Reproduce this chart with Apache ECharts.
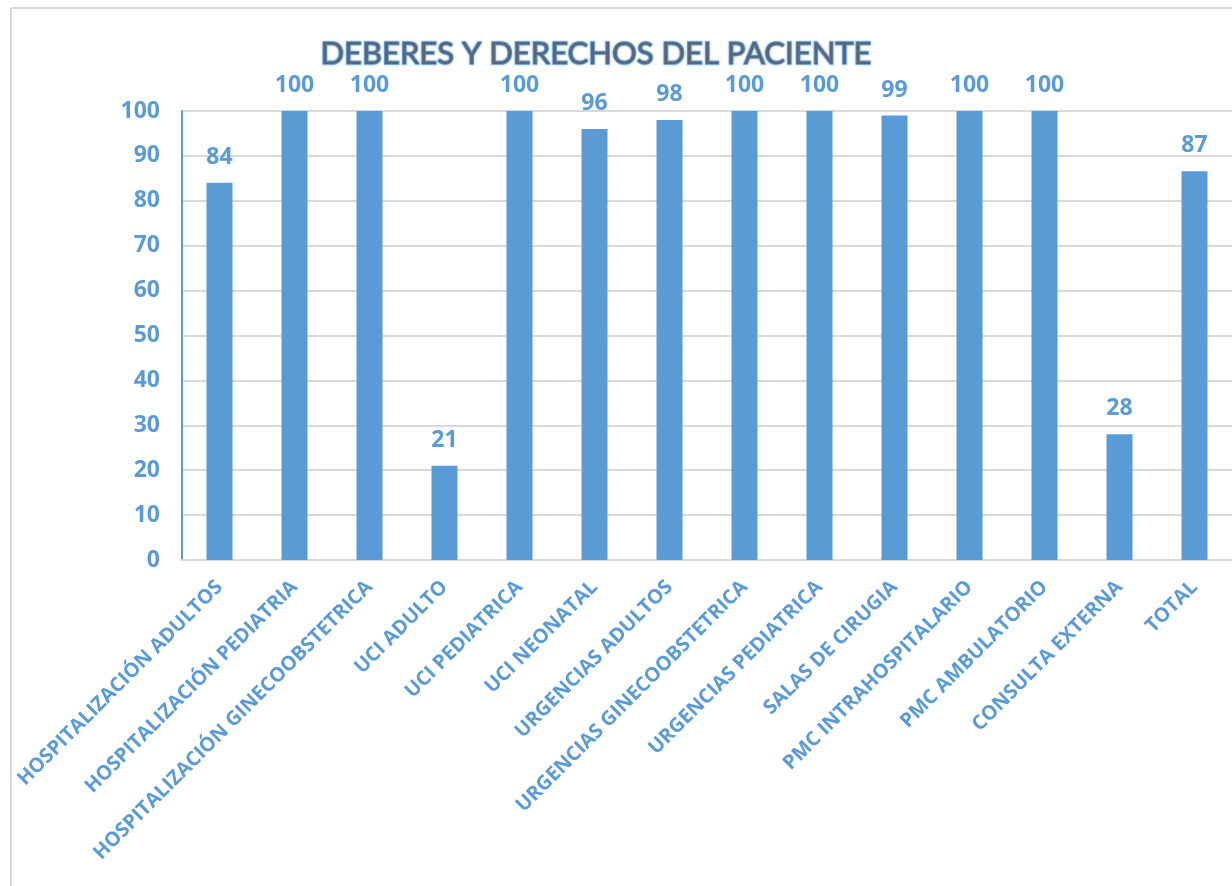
<!DOCTYPE html>
<html>
<head>
<meta charset="utf-8">
<script src="https://cdn.jsdelivr.net/npm/echarts@6/dist/echarts.min.js"></script>
<style>
  html, body { margin: 0; padding: 0; background: #fff; }
  #chart { width: 1232px; height: 886px; }
</style>
</head>
<body>
<div id="chart"></div>
<script>
// categories along x
const categories = [
  'HOSPITALIZACIÓN ADULTOS',
  'HOSPITALIZACIÓN PEDIATRIA',
  'HOSPITALIZACIÓN GINECOOBSTETRICA',
  'UCI ADULTO',
  'UCI PEDIATRICA',
  'UCI NEONATAL',
  'URGENCIAS ADULTOS',
  'URGENCIAS GINECOOBSTETRICA',
  'URGENCIAS PEDIATRICA',
  'SALAS DE CIRUGIA',
  'PMC INTRAHOSPITALARIO',
  'PMC AMBULATORIO',
  'CONSULTA EXTERNA',
  'TOTAL'
]
// percentages
const values = [84, 100, 100, 21, 100, 96, 98, 100, 100, 99, 100, 100, 28, 86.6]

const blue = '#5B9BD5'
const font = '"Open Sans", sans-serif'

const chart = echarts.init(document.getElementById('chart'))

const option = {
  animation: false,
  backgroundColor: '#fff',
  title: {
    text: 'DEBERES Y DERECHOS DEL PACIENTE',
    left: 591,
    top: 33,
    textAlign: 'center',
    textStyle: {
      fontFamily: 'Lato, sans-serif',
      fontSize: 31,
      fontWeight: 'normal',
      color: '#5a6678',
      textBorderColor: 'rgba(91,155,213,0.9)',
      textBorderWidth: 1.5,
      textShadowColor: 'rgba(91,155,213,0.8)',
      textShadowBlur: 2
    }
  },
  graphic: [
    { type: 'line', shape: { x1: 11, y1: 8, x2: 11, y2: 886 }, style: { stroke: '#d9d9d9', lineWidth: 2 } },
    { type: 'line', shape: { x1: 11, y1: 8, x2: 1232, y2: 8 }, style: { stroke: '#d9d9d9', lineWidth: 2 } }
  ],
  grid: { left: 182, right: 0, top: 111, bottom: 326 },
  xAxis: {
    type: 'category',
    data: categories,
    axisLine: { lineStyle: { color: '#d9d9d9', width: 2 } },
    axisTick: { show: false },
    axisLabel: {
      interval: 0,
      rotate: 45,
      margin: 24,
      color: blue,
      fontFamily: font,
      fontWeight: 'bold',
      fontSize: 20
    }
  },
  yAxis: {
    type: 'value',
    min: 0,
    max: 100,
    interval: 10,
    axisLine: { show: true, lineStyle: { color: blue, width: 2 } },
    axisTick: { show: false },
    splitLine: { lineStyle: { color: '#d9d9d9', width: 2 } },
    axisLabel: {
      margin: 22,
      color: blue,
      fontFamily: font,
      fontWeight: 'bold',
      fontSize: 23
    }
  },
  series: [{
    type: 'bar',
    data: values,
    barWidth: 26,
    itemStyle: { color: blue },
    label: {
      show: true,
      position: 'top',
      distance: 14,
      color: blue,
      fontFamily: font,
      fontWeight: 'bold',
      fontSize: 23,
      formatter: p => Math.round(p.value)
    }
  }]
}

chart.setOption(option)
</script>
</body>
</html>
